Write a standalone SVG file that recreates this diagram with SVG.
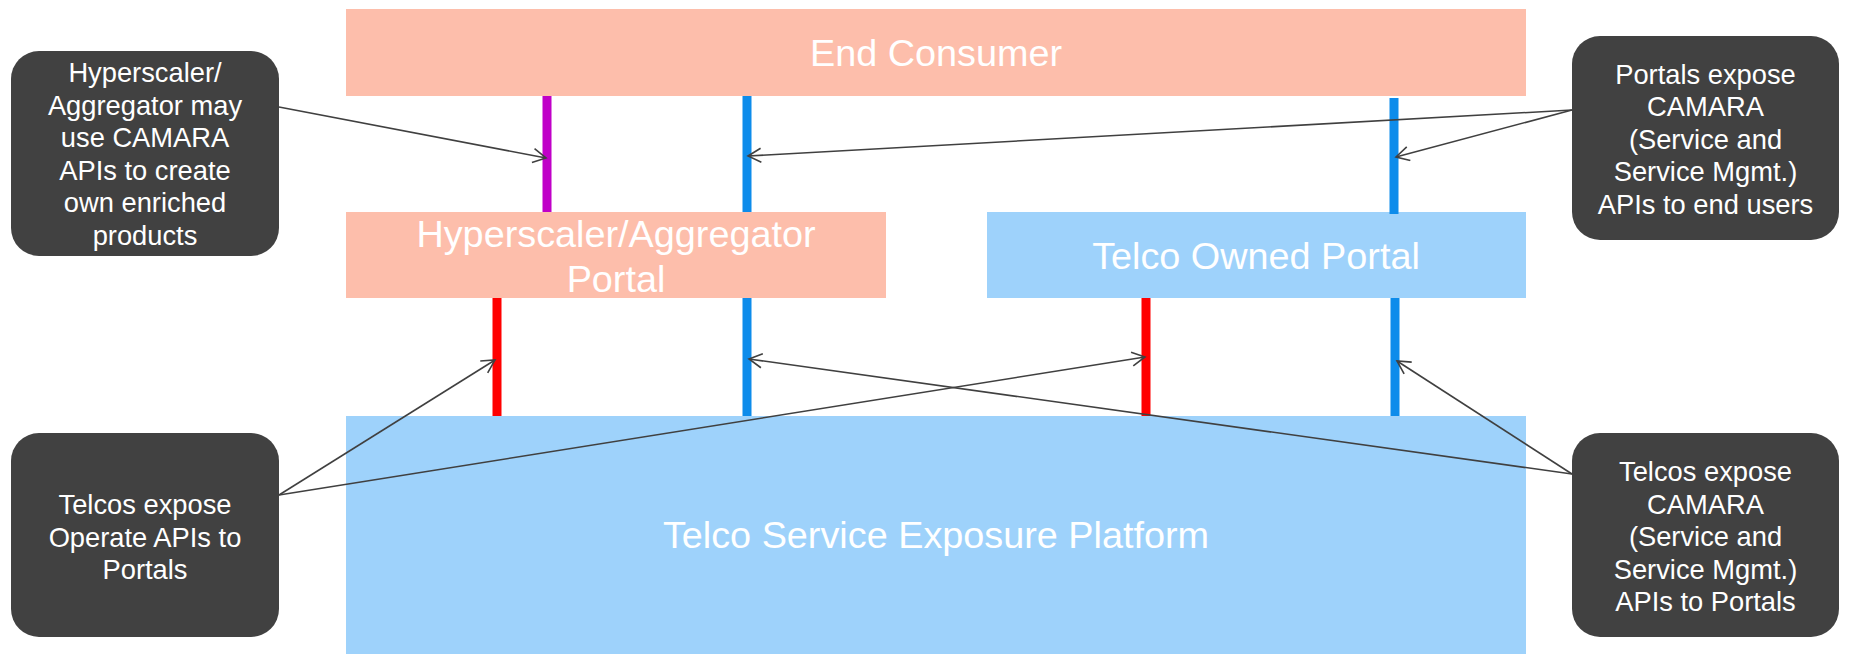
<svg xmlns="http://www.w3.org/2000/svg" width="1849" height="666" viewBox="0 0 1849 666">
  <style>
    .box-salmon { fill: #FDBEAB; }
    .box-blue { fill: #9ED2FB; }
    .callout { fill: #414141; }
    .main-text { font-family: "Liberation Sans", Arial, sans-serif; font-size: 37.8px; fill: #FFFFFF; text-anchor: middle; }
    .call-text { font-family: "Liberation Sans", Arial, sans-serif; font-size: 27.3px; fill: #FFFFFF; text-anchor: middle; }
    .bar { stroke-width: 9; fill: none; }
    .bar-purple { stroke: #C000C8; }
    .bar-blue { stroke: #0D8CEB; }
    .bar-red { stroke: #FF0000; }
    .conn { stroke: #404040; stroke-width: 1.6; fill: none; marker-end: url(#arrow); }
  </style>
  <defs>
    <marker id="arrow" markerUnits="userSpaceOnUse" markerWidth="16" markerHeight="18" refX="14" refY="8" orient="auto">
      <path d="M1,1 L14,8 L1,15" fill="none" stroke="#404040" stroke-width="1.6"/>
    </marker>
  </defs>

  <rect width="1849" height="666" fill="#FFFFFF"/>

  <g id="end-consumer">
    <rect class="box-salmon" x="346" y="9" width="1180" height="87"/>
    <text class="main-text" x="936" y="66">End Consumer</text>
  </g>

  <g id="hyperscaler-portal">
    <rect class="box-salmon" x="346" y="212" width="540" height="86"/>
    <text class="main-text" x="616" y="247">Hyperscaler/Aggregator</text>
    <text class="main-text" x="616" y="292">Portal</text>
  </g>

  <g id="telco-owned-portal">
    <rect class="box-blue" x="987" y="212" width="539" height="86"/>
    <text class="main-text" x="1256" y="269">Telco Owned Portal</text>
  </g>

  <g id="telco-platform">
    <rect class="box-blue" x="346" y="416" width="1180" height="238"/>
    <text class="main-text" x="936" y="548">Telco Service Exposure Platform</text>
  </g>

  <g id="bars">
    <line class="bar bar-purple" x1="547" y1="96" x2="547" y2="212"/>
    <line class="bar bar-blue" x1="747" y1="96" x2="747" y2="212"/>
    <line class="bar bar-blue" x1="1394" y1="98" x2="1394" y2="214"/>
    <line class="bar bar-red" x1="497" y1="298" x2="497" y2="416"/>
    <line class="bar bar-blue" x1="747" y1="298" x2="747" y2="416"/>
    <line class="bar bar-red" x1="1146" y1="298" x2="1146" y2="416"/>
    <line class="bar bar-blue" x1="1395" y1="298" x2="1395" y2="416"/>
  </g>

  <g id="callout-hyperscaler">
    <rect class="callout" x="11" y="51" width="268" height="205" rx="28" ry="28"/>
    <text class="call-text" x="145" y="82">Hyperscaler/</text>
    <text class="call-text" x="145" y="114.5">Aggregator may</text>
    <text class="call-text" x="145" y="147">use CAMARA</text>
    <text class="call-text" x="145" y="179.5">APIs to create</text>
    <text class="call-text" x="145" y="212">own enriched</text>
    <text class="call-text" x="145" y="244.5">products</text>
  </g>

  <g id="callout-portals">
    <rect class="callout" x="1572" y="36" width="267" height="204" rx="28" ry="28"/>
    <text class="call-text" x="1705.5" y="83.5">Portals expose</text>
    <text class="call-text" x="1705.5" y="116">CAMARA</text>
    <text class="call-text" x="1705.5" y="148.5">(Service and</text>
    <text class="call-text" x="1705.5" y="181">Service Mgmt.)</text>
    <text class="call-text" x="1705.5" y="213.5">APIs to end users</text>
  </g>

  <g id="callout-operate">
    <rect class="callout" x="11" y="433" width="268" height="204" rx="28" ry="28"/>
    <text class="call-text" x="145" y="514">Telcos expose</text>
    <text class="call-text" x="145" y="546.5">Operate APIs to</text>
    <text class="call-text" x="145" y="579">Portals</text>
  </g>

  <g id="callout-telcos">
    <rect class="callout" x="1572" y="433" width="267" height="204" rx="28" ry="28"/>
    <text class="call-text" x="1705.5" y="481">Telcos expose</text>
    <text class="call-text" x="1705.5" y="513.5">CAMARA</text>
    <text class="call-text" x="1705.5" y="546">(Service and</text>
    <text class="call-text" x="1705.5" y="578.5">Service Mgmt.)</text>
    <text class="call-text" x="1705.5" y="611">APIs to Portals</text>
  </g>

  <g id="connectors">
    <line class="conn" x1="279" y1="107" x2="546" y2="158"/>
    <line class="conn" x1="1572" y1="110" x2="748" y2="156"/>
    <line class="conn" x1="1572" y1="110" x2="1396" y2="157"/>
    <line class="conn" x1="279" y1="495" x2="495" y2="360"/>
    <line class="conn" x1="279" y1="495" x2="1145" y2="357"/>
    <line class="conn" x1="1572" y1="474" x2="749" y2="359"/>
    <line class="conn" x1="1572" y1="474" x2="1397" y2="361"/>
  </g>
</svg>
